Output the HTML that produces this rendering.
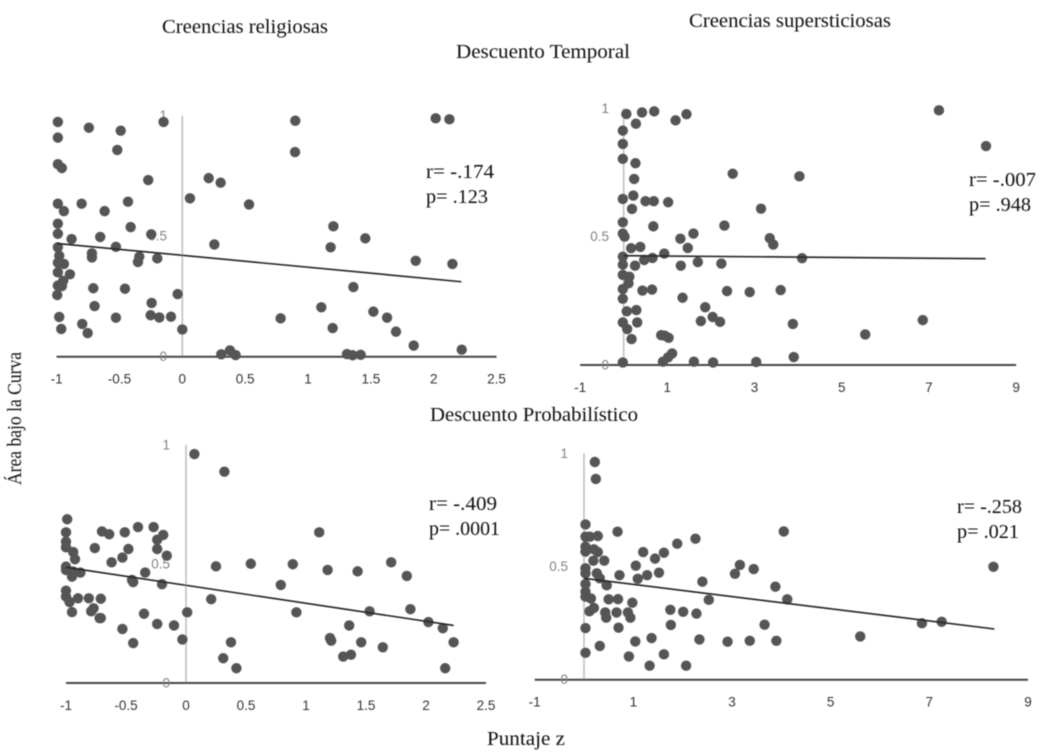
<!DOCTYPE html>
<html lang="es">
<head>
<meta charset="utf-8">
<title>Descuento y creencias</title>
<style>
html,body{margin:0;padding:0;background:#fff;width:1043px;height:755px;overflow:hidden}
svg{display:block}
.serif{font-family:"Liberation Serif",serif;fill:#111}
.tick{font-family:"Liberation Sans",sans-serif;font-size:13.5px;fill:#333}
.ytick{font-family:"Liberation Sans",sans-serif;font-size:13.5px;fill:#808080}
</style>
</head>
<body>
<svg id="chart" xmlns="http://www.w3.org/2000/svg" width="1043" height="755" viewBox="0 0 1043 755">
<defs><filter id="soft" x="-5%" y="-5%" width="110%" height="110%"><feGaussianBlur stdDeviation="0.45"/></filter></defs>
<g id="root" filter="url(#soft)">
<text class="serif" x="162" y="33" font-size="19.5" textLength="166" lengthAdjust="spacingAndGlyphs">Creencias religiosas</text>
<text class="serif" x="689" y="27" font-size="19.5" textLength="202" lengthAdjust="spacingAndGlyphs">Creencias supersticiosas</text>
<text class="serif" x="456" y="58" font-size="19.5" textLength="174" lengthAdjust="spacingAndGlyphs">Descuento Temporal</text>
<text class="serif" x="430" y="421" font-size="19.5" textLength="208" lengthAdjust="spacingAndGlyphs">Descuento Probabilístico</text>
<text class="serif" transform="translate(21,485) rotate(-90)" font-size="19.5" textLength="133" lengthAdjust="spacingAndGlyphs">Área bajo la Curva</text>
<text class="serif" x="487" y="745" font-size="19.5" textLength="78" lengthAdjust="spacingAndGlyphs">Puntaje z</text>
</g>
</svg>
<script>
const yTickValues = [0, 0.5, 1];
const xTicksReligiosas = [-1, -0.5, 0, 0.5, 1, 1.5, 2, 2.5];
const xTicksSuperst = [-1, 1, 3, 5, 7, 9];

const p1X = [-.99,-.99,-.743,-.49,-.149,-.517,.899,.897,2.016,2.125,-.99,-.958,-.271,.21,.305,.061,.531,-.99,-.942,-.801,-.618,-.432,-.99,-.99,-.411,-.247,-.881,-.653,1.202,1.456,.255,1.18,-.528,-.99,-.719,-.719,-.979,-.342,-.353,-.199,1.857,2.149,-.99,-.942,-.99,-.894,-.947,-.958,-.99,-.995,-.708,-.456,-.037,1.361,-.244,-.698,1.106,1.52,-.979,-.528,-.252,-.183,-.09,.782,1.629,-.796,-.963,-.753,0,1.196,1.7,1.841,2.223,.31,.379,.424,1.31,1.355,1.419];
const p1Y = [.974,.909,.95,.938,.974,.858,.979,.849,.989,.985,.799,.783,.733,.741,.722,.657,.632,.635,.604,.635,.604,.643,.552,.51,.538,.508,.488,.497,.541,.491,.466,.454,.456,.454,.429,.412,.419,.415,.393,.408,.398,.385,.39,.385,.35,.342,.315,.293,.295,.256,.284,.282,.26,.289,.223,.21,.205,.187,.165,.162,.172,.163,.166,.159,.162,.136,.115,.098,.113,.119,.104,.046,.029,.01,.026,.007,.011,.006,.008];
const p1TrendX = [-1, 2.22];
const p1TrendY = [.47, .311];

const p2X = [.06,.42,.7,1.19,1.44,.28,-.02,-.02,-.02,.27,.24,7.23,8.31,2.5,4.03,-.02,.22,.5,.69,1.02,.19,3.15,-.02,.68,2.31,-.02,.02,1.6,1.3,3.35,3.43,.17,.38,1.47,-.02,.93,.66,.47,4.09,-.02,.26,1.31,1.7,2.24,-.02,.13,.11,-.02,.43,.65,2.37,2.89,3.6,-.02,1.35,1.87,.07,.29,2.04,1.77,2.21,-.02,.31,3.88,6.86,.08,.18,.86,.94,1.03,5.54,1.11,1.02,.9,-.02,1.61,2.05,3.04,3.9];
const p2Y = [.978,.984,.988,.953,.977,.94,.913,.861,.803,.786,.725,.992,.853,.745,.735,.647,.66,.638,.638,.634,.608,.609,.556,.54,.543,.512,.5,.512,.492,.494,.469,.455,.46,.456,.422,.434,.417,.409,.416,.391,.387,.387,.401,.395,.351,.344,.318,.296,.29,.294,.288,.284,.292,.258,.262,.225,.209,.214,.187,.171,.168,.166,.166,.16,.175,.14,.101,.116,.114,.106,.119,.045,.03,.013,.01,.013,.01,.012,.031];
const p2TrendX = [0, 8.3];
const p2TrendY = [.426, .414];

const p3X = [.07,.32,-.99,-1,-.7,-.64,-.51,-.4,-.27,-.19,-.24,-.24,-1,-1,-.76,-.48,-.94,-.925,-.53,-.62,-.16,1.11,.25,.54,.89,1.18,1.43,1.71,1.84,.79,-1,-1,-.95,-.94,-.88,-.34,-.45,-.44,-.2,-1,-1,-.97,-.9,-.81,-.71,-.95,-.77,-.79,-.72,-.71,-.35,.01,.21,.92,1.53,1.87,-.53,-.44,-.24,-.1,-.03,.375,.31,.42,1.36,1.2,1.21,1.46,1.64,1.31,1.375,2.02,2.14,2.23,2.16];
const p3Y = [.962,.888,.688,.633,.637,.625,.633,.655,.655,.622,.602,.563,.594,.57,.567,.563,.55,.52,.527,.507,.535,.633,.49,.501,.499,.475,.469,.507,.45,.412,.489,.475,.447,.468,.464,.464,.433,.424,.415,.388,.363,.34,.356,.356,.354,.298,.314,.301,.273,.273,.291,.297,.352,.297,.301,.31,.227,.168,.248,.242,.183,.171,.104,.062,.242,.189,.178,.171,.15,.111,.119,.256,.23,.171,.062];
const p3TrendX = [-1, 2.23];
const p3TrendY = [.486, .242];

const p4X = [.22,.24,.03,.68,4.05,.03,.12,.28,2.26,1.89,.03,.03,.2,.28,1.2,1.62,1.44,.19,.41,1.05,3.16,3.44,.03,.03,1.52,1.28,1.09,.72,3.06,.26,.32,2.4,.03,.46,3.88,8.3,.03,.03,.14,.5,.69,.98,2.53,4.12,.2,.11,.43,.45,.66,.89,.94,1.75,2.01,2.28,6.85,7.25,.03,.7,1.76,3.66,5.6,1.04,1.37,2.34,2.91,3.36,3.9,.32,.03,.91,1.62,1.33,2.07];
const p4Y = [.962,.887,.686,.654,.655,.632,.632,.635,.623,.601,.588,.566,.576,.564,.564,.561,.535,.526,.526,.504,.507,.489,.492,.47,.473,.462,.446,.462,.468,.47,.448,.433,.423,.417,.411,.499,.389,.367,.359,.355,.356,.34,.353,.355,.317,.302,.297,.274,.297,.297,.274,.309,.3,.292,.249,.256,.228,.23,.242,.243,.191,.169,.184,.178,.168,.172,.172,.149,.119,.103,.112,.062,.062];
const p4TrendX = [0, 8.32];
const p4TrendY = [.448, .224];

const NS = 'http://www.w3.org/2000/svg';
const root = document.getElementById('root');

function mk(tag, attrs, parent, txt) {
  const el = document.createElementNS(NS, tag);
  for (const k in attrs) el.setAttribute(k, attrs[k]);
  if (txt !== undefined) el.textContent = txt;
  parent.appendChild(el);
  return el;
}

function drawPanel(cfg) {
  const sx = v => cfg.x0 + v * cfg.xUnit;
  const sy = v => cfg.y0 - v * cfg.yUnit;
  const g = mk('g', {}, root);
  
  

  const vAxis = mk('line', {x1: sx(0), x2: sx(0), y1: sy(1), y2: sy(0), stroke: '#c0c0c0', 'stroke-width': 1.6}, g);
  
  

  const hAxis = mk('line', {x1: sx(cfg.xTicks[0]), x2: sx(cfg.xTicks[cfg.xTicks.length - 1]), y1: sy(0), y2: sy(0), stroke: '#444', 'stroke-width': 2}, g);
  
  

  cfg.xTicks.forEach(t => {
    const lab = mk('text', {class: 'tick', x: sx(t), y: cfg.y0 + cfg.xLabelOffset, 'text-anchor': 'middle'}, g, String(t));
    
    
  });
  yTickValues.forEach(t => {
    const lab = mk('text', {class: 'ytick', x: cfg.yLabelX, y: sy(t) + 4.5, 'text-anchor': 'end'}, g, String(t));
    
    
  });

  cfg.xs.forEach((v, i) => {
    const c = mk('circle', {cx: sx(v), cy: sy(cfg.ys[i]), r: 5.2, fill: '#555'}, g);
    
    
  });

  const tr = mk('line', {x1: sx(cfg.tx[0]), y1: sy(cfg.ty[0]), x2: sx(cfg.tx[1]), y2: sy(cfg.ty[1]), stroke: '#222', 'stroke-width': 1.6}, g);
  
  

  const r = mk('text', {class: 'serif', x: cfg.noteX, y: cfg.noteY, 'font-size': 20}, g, cfg.r);
  
  
  r.setAttribute('textLength', cfg.rLen);
  r.setAttribute('lengthAdjust', 'spacingAndGlyphs');
  const p = mk('text', {class: 'serif', x: cfg.noteX, y: cfg.noteY + 25, 'font-size': 20}, g, cfg.p);
  
  
  p.setAttribute('textLength', cfg.pLen);
  p.setAttribute('lengthAdjust', 'spacingAndGlyphs');
}

drawPanel({name: 'panel-temporal-religiosas', x0: 182.3, xUnit: 125.7, y0: 356.7, yUnit: 241, xTicks: xTicksReligiosas, xLabelOffset: 27, yLabelX: 167, xs: p1X, ys: p1Y, tx: p1TrendX, ty: p1TrendY, noteX: 426, noteY: 178, r: 'r= -.174', p: 'p= .123', rLen: 68, pLen: 62});
drawPanel({name: 'panel-temporal-supersticiosas', x0: 623.7, xUnit: 43.6, y0: 365, yUnit: 256.7, xTicks: xTicksSuperst, xLabelOffset: 27, yLabelX: 609, xs: p2X, ys: p2Y, tx: p2TrendX, ty: p2TrendY, noteX: 969, noteY: 186, r: 'r= -.007', p: 'p= .948', rLen: 67, pLen: 62});
drawPanel({name: 'panel-probabilistico-religiosas', x0: 186, xUnit: 120, y0: 683, yUnit: 238, xTicks: xTicksReligiosas, xLabelOffset: 27, yLabelX: 170, xs: p3X, ys: p3Y, tx: p3TrendX, ty: p3TrendY, noteX: 429, noteY: 510, r: 'r= -.409', p: 'p= .0001', rLen: 68, pLen: 71});
drawPanel({name: 'panel-probabilistico-supersticiosas', x0: 584, xUnit: 49.33, y0: 679.7, yUnit: 226.3, xTicks: xTicksSuperst, xLabelOffset: 27, yLabelX: 568, xs: p4X, ys: p4Y, tx: p4TrendX, ty: p4TrendY, noteX: 957, noteY: 513, r: 'r= -.258', p: 'p= .021', rLen: 65, pLen: 62});
</script>
</body>
</html>
